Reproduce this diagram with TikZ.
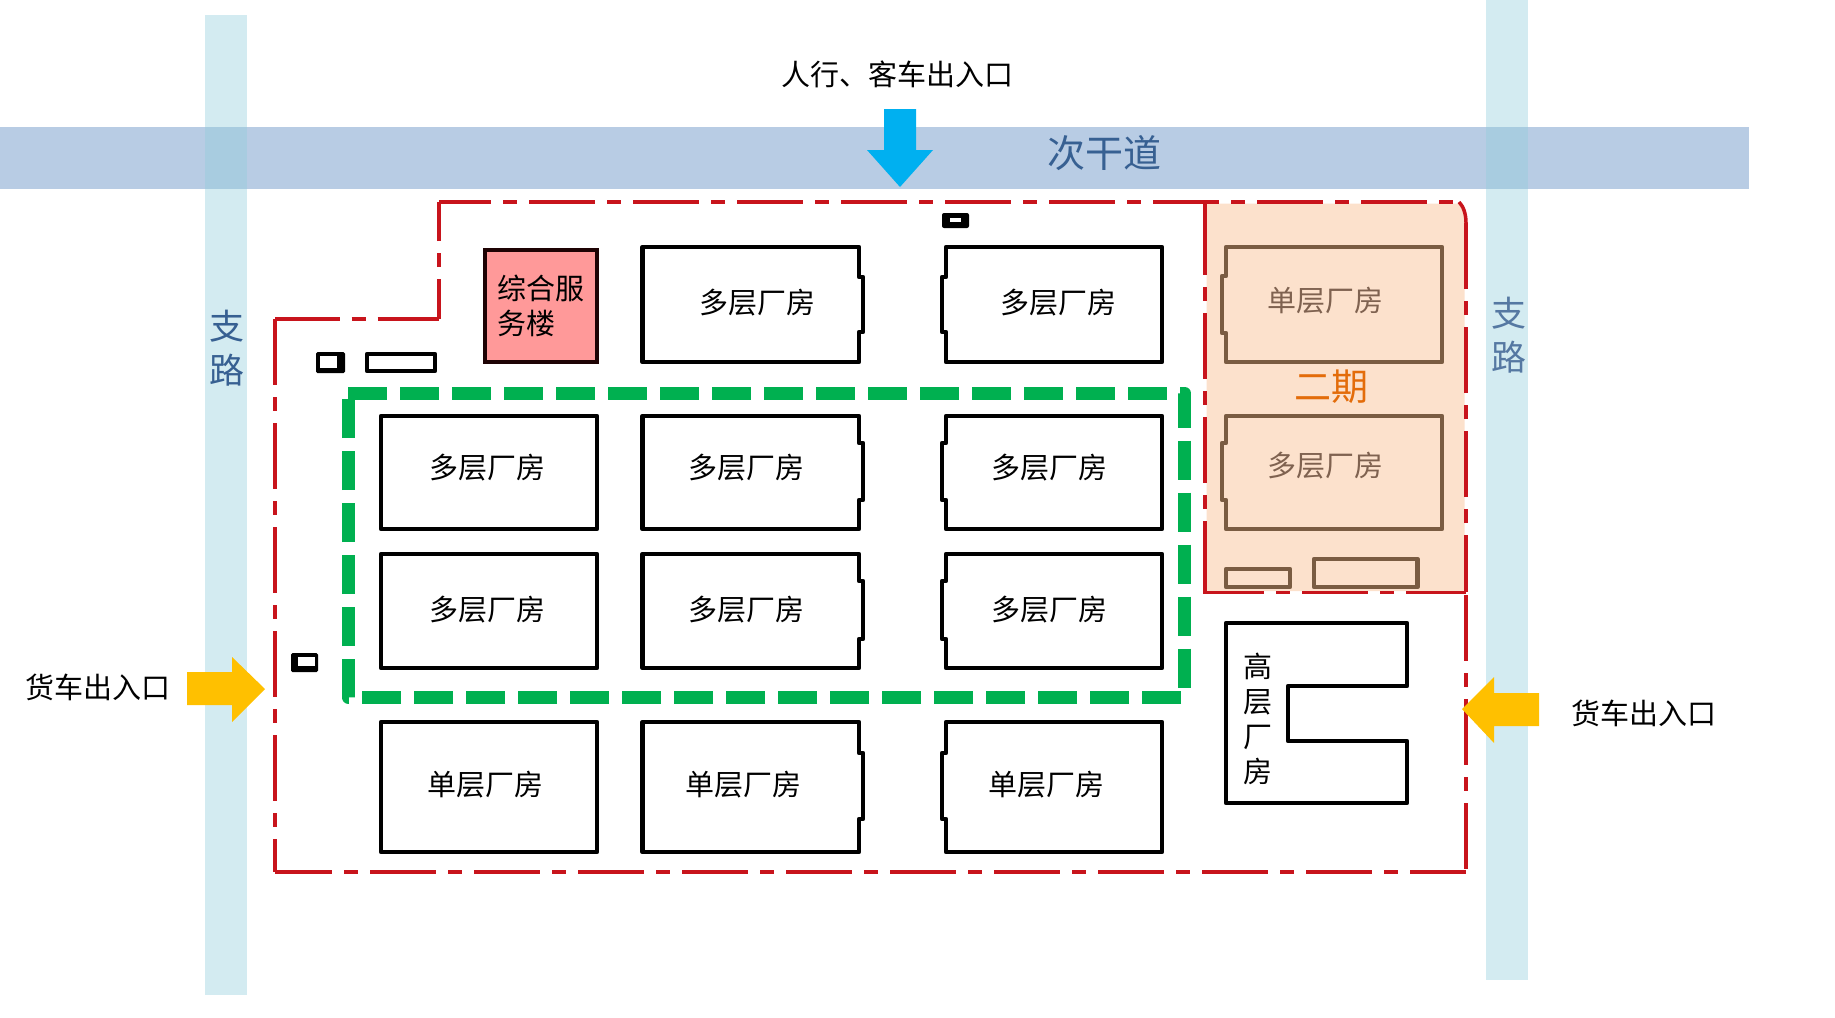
\documentclass[tikz,border=0pt]{standalone}
\usepackage{fontspec}
\setmainfont{Noto Sans CJK SC}
\definecolor{plband}{HTML}{B8CCE4}
\definecolor{plroad}{HTML}{92CDDC}
\definecolor{pltext}{HTML}{376092}
\definecolor{plred}{HTML}{C8141C}
\definecolor{plgreen}{HTML}{00B050}
\definecolor{plpeach}{HTML}{FCE1CC}
\definecolor{plbrown}{HTML}{7A5C42}
\definecolor{plbrowntext}{HTML}{7F6250}
\definecolor{plpink}{HTML}{FF9999}
\definecolor{plblue}{HTML}{00B0F0}
\definecolor{plyellow}{HTML}{FFC000}
\definecolor{plorange}{HTML}{E36C0A}
\tikzset{
  pl/road/.style={fill=plroad, fill opacity=0.4},
  pl/redline/.style={draw=plred, line width=3.5pt},
  pl/bound/.style={pl/redline, dash pattern=on 66pt off 12pt on 14pt off 12pt},
  pl/wall/.style={draw=black, line width=4.6pt, line join=round},
  pl/wall2/.style={draw=plbrown, line width=4.6pt, line join=round},
  pl/label/.style={inner sep=0pt, align=center, font=\fontsize{29}{35}\selectfont},
  pl/label2/.style={pl/label, text=plbrowntext},
  pl/roadlabel/.style={inner sep=0pt, align=center, text=pltext, font=\fontsize{35}{44}\selectfont}
}
\begin{document}
\begin{tikzpicture}[x=1pt, y=-1pt]
  \useasboundingbox (0,0) rectangle (1835,1017);

  % roads
  \fill[plband] (0,126.5) rectangle (1749,189);
  \fill[pl/road] (205,15) rectangle (247,995);
  \fill[pl/road] (1486,0) rectangle (1528,980);
  \node[pl/roadlabel, font=\fontsize{38}{44}\selectfont] (mainroad) at (1104,153) {次干道};
  \node[pl/roadlabel] (roadw) at (227,348) {支\\路};
  \node[pl/roadlabel, text=pltext!85] (roade) at (1508.5,335) {支\\路};

  % second phase area
  \fill[plpeach] (1206.5,203.5) -- (1459,203.5) .. controls (1462,206) and (1464.5,213) .. (1464.5,223)
    -- (1464.5,591) -- (1206.5,591) -- cycle;

  % site boundary
  \draw[pl/bound] (275,319) -- (275,872);
  \draw[pl/bound, dash phase=1.5pt] (275,319) -- (439,319);
  \draw[pl/bound, dash phase=26pt] (439,319) -- (439,202);
  \draw[pl/bound, dash phase=14pt] (439,202) -- (1459,202);
  \draw[pl/redline] (1459,202) .. controls (1463,206) and (1466,213) .. (1466,223);
  \draw[pl/bound] (1466,223) -- (1466,592);
  \draw[pl/bound] (1466,595) -- (1466,872);
  \draw[pl/bound, dash phase=9pt] (275,872) -- (1466,872);
  \draw[pl/redline] (1205,202) -- (1205,209);
  \draw[pl/bound] (1205,209) -- (1205,587);
  \draw[pl/bound, dash phase=1.4pt] (1205,587) -- (1205,592.6) -- (1466,592.6);

  % inner ring road
  \draw[plgreen, line width=13pt, dash pattern=on 39pt off 13pt, line join=round]
    (348,393) -- (1184.5,393) -- (1184.5,697) -- (348,697) -- (348,398);

  % service building
  \node[pl/label, align=left, minimum width=112pt, minimum height=112pt, fill=plpink,
    draw=black!85!plred, line width=4.6pt, text width=87pt] (service) at (541,306) {综合服\\务楼};

  % first row
  \draw[pl/wall] (642.5,247) -- (859,247) -- (859,277) -- (863,277) -- (863,332) -- (859,332) -- (859,362) -- (642.5,362) -- cycle;
  \node[pl/label] (m12) at (757,303) {多层厂房};
  \draw[pl/wall] (1162,247) -- (946,247) -- (946,277) -- (942,277) -- (942,332) -- (946,332) -- (946,362) -- (1162,362) -- cycle;
  \node[pl/label] (m13) at (1058,303) {多层厂房};

  % second row
  \draw[pl/wall] (381,416) rectangle (597,529);
  \node[pl/label] (m21) at (487,468) {多层厂房};
  \draw[pl/wall] (642.5,416) -- (859,416) -- (859,443) -- (863,443) -- (863,500) -- (859,500) -- (859,529) -- (642.5,529) -- cycle;
  \node[pl/label] (m22) at (746.5,468) {多层厂房};
  \draw[pl/wall] (1162,416) -- (946,416) -- (946,443) -- (942,443) -- (942,500) -- (946,500) -- (946,529) -- (1162,529) -- cycle;
  \node[pl/label] (m23) at (1049,468) {多层厂房};

  % third row
  \draw[pl/wall] (381,554) rectangle (597,668);
  \node[pl/label] (m31) at (487,610) {多层厂房};
  \draw[pl/wall] (642.5,554) -- (859,554) -- (859,581) -- (863,581) -- (863,639) -- (859,639) -- (859,668) -- (642.5,668) -- cycle;
  \node[pl/label] (m32) at (746.5,610) {多层厂房};
  \draw[pl/wall] (1162,554) -- (946,554) -- (946,581) -- (942,581) -- (942,639) -- (946,639) -- (946,668) -- (1162,668) -- cycle;
  \node[pl/label] (m33) at (1049,610) {多层厂房};

  % fourth row
  \draw[pl/wall] (381,722) rectangle (597,852);
  \node[pl/label] (s41) at (485,785) {单层厂房};
  \draw[pl/wall] (642.5,722) -- (859,722) -- (859,753) -- (863,753) -- (863,819) -- (859,819) -- (859,852) -- (642.5,852) -- cycle;
  \node[pl/label] (s42) at (743,785) {单层厂房};
  \draw[pl/wall] (1162,722) -- (946,722) -- (946,753) -- (942,753) -- (942,819) -- (946,819) -- (946,852) -- (1162,852) -- cycle;
  \node[pl/label] (s43) at (1046,785) {单层厂房};

  % second phase buildings
  \draw[pl/wall2] (1442,247) -- (1226,247) -- (1226,276) -- (1222,276) -- (1222,333) -- (1226,333) -- (1226,362) -- (1442,362) -- cycle;
  \node[pl/label2] (s2a) at (1325,301) {单层厂房};
  \draw[pl/wall2] (1442,416) -- (1226,416) -- (1226,443) -- (1222,443) -- (1222,500) -- (1226,500) -- (1226,529) -- (1442,529) -- cycle;
  \node[pl/label2] (m2b) at (1325,466) {多层厂房};
  \draw[pl/wall2] (1226,569) rectangle (1290,587);
  \draw[pl/wall2] (1314,559) rectangle (1417.5,587);
  \node[inner sep=0pt, text=plorange, font=\fontsize{37}{40}\selectfont] (phase2) at (1331,387) {二期};

  % high-rise block
  \draw[pl/wall] (1226,623) -- (1407,623) -- (1407,686) -- (1288,686) -- (1288,741) -- (1407,741) -- (1407,803) -- (1226,803) -- cycle;
  \node[pl/label] (tower) at (1258,718.5) {高\\层\\厂\\房};

  % gate houses and small sheds
  \fill[black, rounded corners=1.5pt] (316,352) rectangle (345,373);
  \fill[white] (320,356) rectangle (337,368);
  \draw[pl/wall] (367,354) rectangle (435,371);
  \fill[black, rounded corners=2pt] (942,213) rectangle (969,228);
  \fill[white] (950,217.5) rectangle (961,222);
  \fill[black, rounded corners=1.5pt] (291,653) rectangle (318,672);
  \fill[white] (298,657) rectangle (315,666);

  % entrances
  \fill[plblue] (884,109) -- (916,109) -- (916,150) -- (933,150) -- (900,187) -- (867,150) -- (884,150) -- cycle;
  \node[pl/label] (gatep) at (897,74) {人行、客车出入口};
  \fill[plyellow] (187,672) -- (232,672) -- (232,657) -- (265,689) -- (232,722) -- (232,705) -- (187,705) -- cycle;
  \node[pl/label] (gatew) at (98,687) {货车出入口};
  \fill[plyellow] (1539,693) -- (1494,693) -- (1494,677) -- (1462,709) -- (1494,743) -- (1494,726) -- (1539,726) -- cycle;
  \node[pl/label] (gatee) at (1644,713) {货车出入口};
\end{tikzpicture}
\end{document}
